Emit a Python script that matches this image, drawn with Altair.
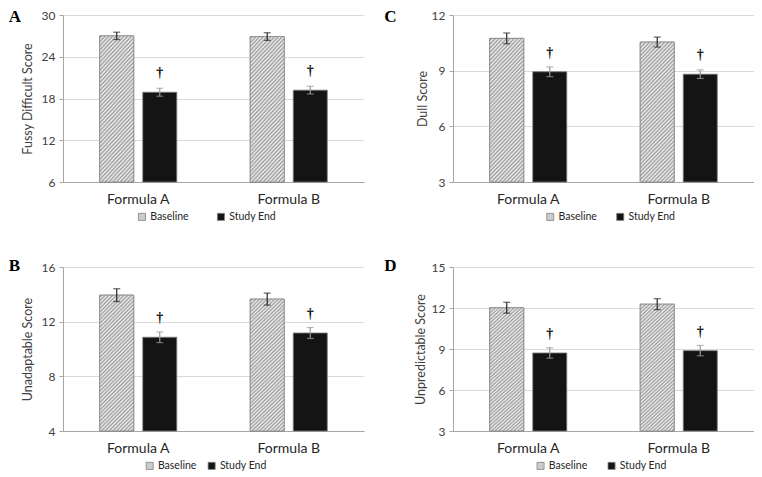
import altair as alt
import pandas as pd

formulas = ["Formula A", "Formula B"]
groups = ["Baseline", "Study End"]

fussy_ticks = [6, 12, 18, 24, 30]
fussy_baseline = [27.0, 26.9]
fussy_baseline_se = [0.53, 0.55]
fussy_end = [18.9, 19.2]
fussy_end_se = [0.57, 0.55]

dull_ticks = [3, 6, 9, 12]
dull_baseline = [10.74, 10.54]
dull_baseline_se = [0.29, 0.27]
dull_end = [8.94, 8.81]
dull_end_se = [0.26, 0.23]

unadapt_ticks = [4, 8, 12, 16]
unadapt_baseline = [13.94, 13.65]
unadapt_baseline_se = [0.47, 0.44]
unadapt_end = [10.86, 11.17]
unadapt_end_se = [0.39, 0.40]

unpred_ticks = [3, 6, 9, 12, 15]
unpred_baseline = [12.02, 12.28]
unpred_baseline_se = [0.40, 0.40]
unpred_end = [8.71, 8.88]
unpred_end_se = [0.38, 0.38]

FONT = "Lato"


def hatch_gradient(n=46, light="#f0f0f0", dark="#9c9c9c"):
    stops = []
    p = 1.0 / n
    for i in range(n):
        a = i * p
        stops += [
            {"offset": round(a, 6), "color": light},
            {"offset": round(a + 0.5 * p, 6), "color": dark},
        ]
    stops.append({"offset": 1.0, "color": light})
    return {"gradient": "linear", "x1": 0, "y1": 0, "x2": 0.3, "y2": 1.2, "stops": stops}


HATCH = hatch_gradient()


def make_panel(letter, ytitle, ticks, base, base_se, end, end_se, height,
               letter_x, letter_y, title_pad, leg_x, leg_gap):
    rows = []
    for i, f in enumerate(formulas):
        rows.append({"Formula": f, "Group": groups[0], "Mean": base[i],
                     "Lo": base[i] - base_se[i], "Hi": base[i] + base_se[i]})
        rows.append({"Formula": f, "Group": groups[1], "Mean": end[i],
                     "Lo": end[i] - end_se[i], "Hi": end[i] + end_se[i]})
    df = pd.DataFrame(rows)
    src = alt.Chart(df)

    x = alt.X("Formula:N", sort=formulas,
              scale=alt.Scale(domain=formulas, paddingInner=0.488, paddingOuter=0.244),
              axis=alt.Axis(title=None, labelAngle=0, ticks=False, tickSize=0,
                            labelPadding=10, labelFont=FONT, labelFontSize=14,
                            labelColor="#262626", domainColor="#a6a6a6", domainWidth=1))
    xo = alt.XOffset("Group:N", scale=alt.Scale(domain=groups, paddingInner=0.21, paddingOuter=0))
    yscale = alt.Scale(domain=[ticks[0], ticks[-1]], nice=False, zero=False)
    yaxis = alt.Axis(values=ticks, title=ytitle, grid=True, gridColor="#d9d9d9", gridWidth=1,
                     domainColor="#a6a6a6", tickColor="#a6a6a6", tickSize=4, labelPadding=4,
                     labelFont=FONT, labelFontSize=12, labelColor="#404040",
                     titleFont=FONT, titleFontSize=12.5, titleFontWeight="normal",
                     titleColor="#404040", titlePadding=title_pad)

    legend = alt.Legend(title=None, orient="none", legendX=leg_x, legendY=height + 29.5,
                        direction="horizontal", symbolType="square", symbolSize=50,
                        symbolStrokeColor="#808080", symbolStrokeWidth=0.8,
                        labelFont=FONT, labelFontSize=10.5, labelColor="#262626",
                        columnPadding=leg_gap, labelOffset=3, padding=0)

    bars = src.mark_bar(stroke="#7a7a7a", strokeWidth=0.8).encode(
        x=x, xOffset=xo,
        y=alt.Y("Mean:Q", scale=yscale, axis=yaxis),
        y2=alt.datum(ticks[0]),
        fill=alt.Fill("Group:N", scale=alt.Scale(domain=groups, range=["#cccccc", "#141414"]),
                      legend=legend),
    )
    hatch = src.transform_filter(alt.datum.Group == groups[0]).mark_bar(
        fill=HATCH, stroke="#8c8c8c", strokeWidth=0.8
    ).encode(x="Formula:N", xOffset="Group:N", y="Mean:Q", y2=alt.datum(ticks[0]))

    err_col = alt.condition(alt.datum.Group == groups[0], alt.value("#262626"), alt.value("#9a9a9a"))
    rules = src.mark_rule(strokeWidth=1.2).encode(
        x="Formula:N", xOffset="Group:N", y="Lo:Q", y2="Hi:Q", stroke=err_col)
    cap_lo = src.mark_tick(size=7, thickness=1.2).encode(
        x="Formula:N", xOffset="Group:N", y="Lo:Q", color=err_col)
    cap_hi = src.mark_tick(size=7, thickness=1.2).encode(
        x="Formula:N", xOffset="Group:N", y="Hi:Q", color=err_col)

    dagger = src.transform_filter(alt.datum.Group == groups[1]).mark_text(
        text="\u2020", dy=-19, font="Liberation Serif", fontSize=14, fontWeight="bold",
        color="#111111", baseline="middle"
    ).encode(x="Formula:N", xOffset="Group:N", y="Mean:Q")

    lab = alt.Chart(pd.DataFrame({"t": [letter]})).mark_text(
        align="left", baseline="top", font="Liberation Serif", fontSize=17,
        fontWeight="bold", color="#000000"
    ).encode(text="t:N", x=alt.value(letter_x), y=alt.value(letter_y))

    return alt.layer(bars, hatch, rules, cap_lo, cap_hi, dagger, lab).properties(
        width=301, height=height)


pA = make_panel("A", "Fussy Difficult Score", fussy_ticks, fussy_baseline, fussy_baseline_se,
                fussy_end, fussy_end_se, 167, -54.3, -6, 7, 73.7, 27)
pC = make_panel("C", "Dull Score", dull_ticks, dull_baseline, dull_baseline_se,
                dull_end, dull_end_se, 167, -68.7, -6, 2, 92, 18)
pB = make_panel("B", "Unadaptable  Score", unadapt_ticks, unadapt_baseline, unadapt_baseline_se,
                unadapt_end, unadapt_end_se, 164, -54.3, -9, 7, 81.4, 10)
pD = make_panel("D", "Unpredictable Score", unpred_ticks, unpred_baseline, unpred_baseline_se,
                unpred_end, unpred_end_se, 164, -68.7, -9, 4, 82.3, 19)

row1 = alt.hconcat(pA, pC, spacing=20).resolve_scale(fill="independent")
row2 = alt.hconcat(pB, pD, spacing=20).resolve_scale(fill="independent")
chart = alt.vconcat(row1, row2, spacing=34).resolve_scale(fill="independent").properties(
    padding=0, background="white"
).configure_view(stroke=None)

chart.save("out.html", embed_options={"renderer": "svg", "actions": False})
